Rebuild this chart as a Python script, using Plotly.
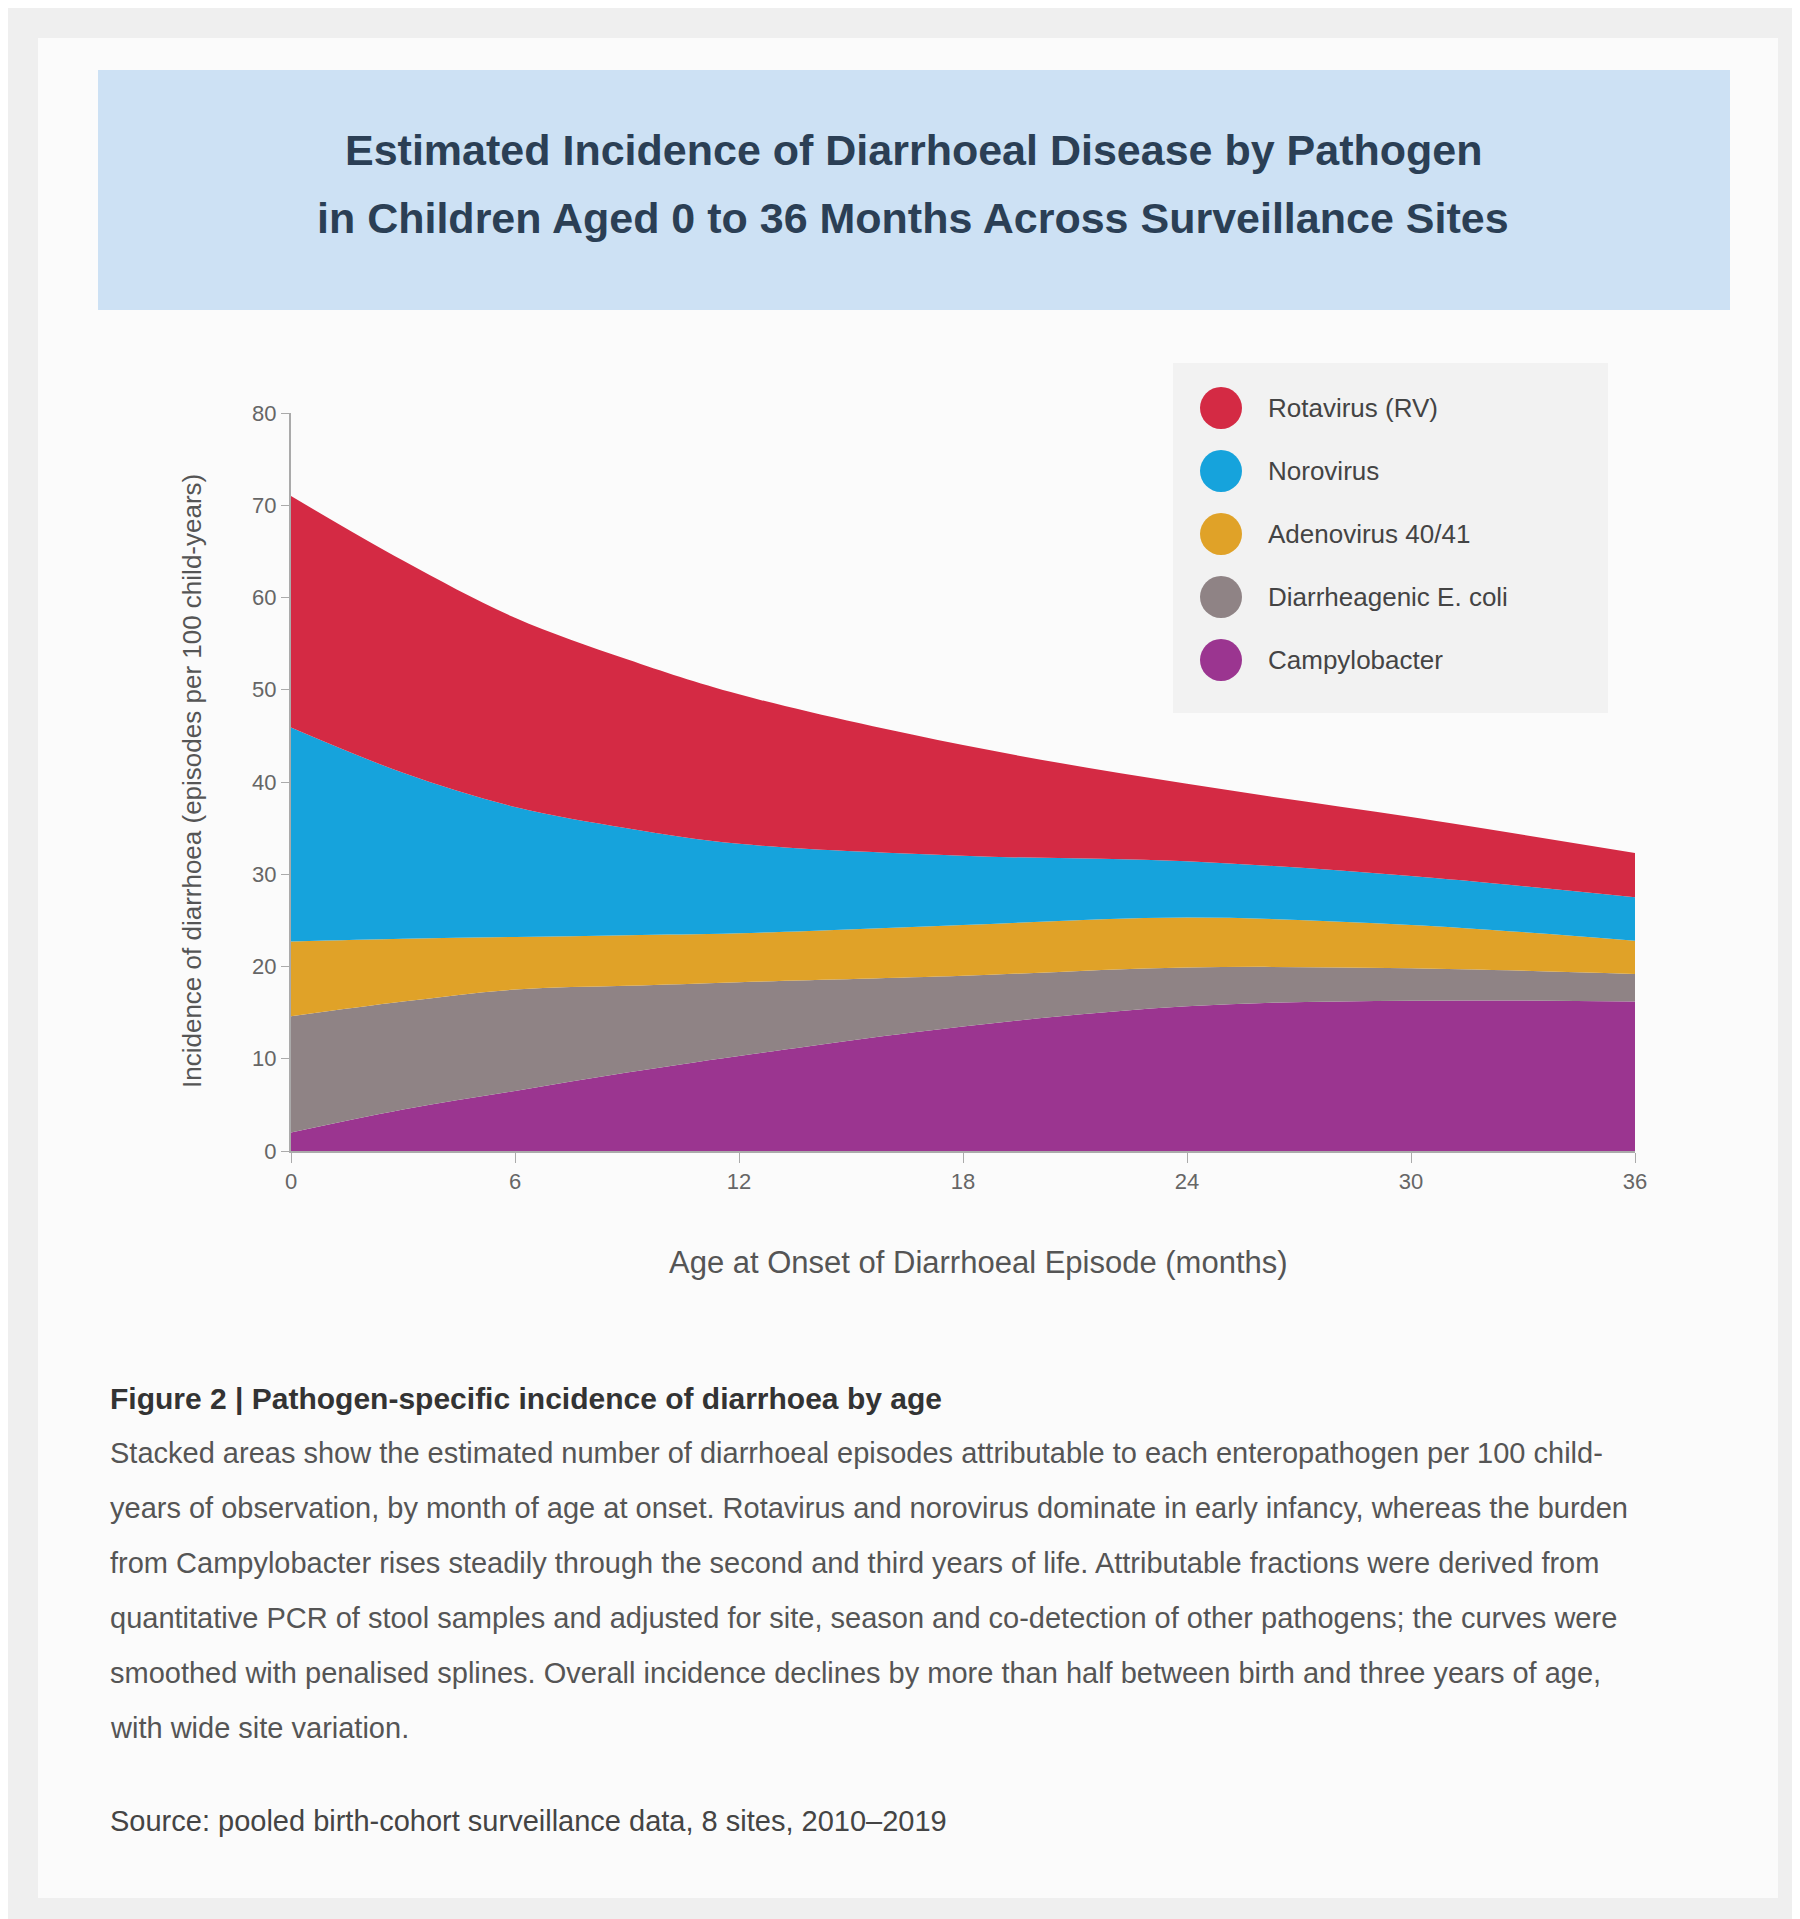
import plotly.graph_objects as go

# age at episode onset (months)
age_months = [0, 3, 6, 9, 12, 18, 24, 30, 36]

# episodes per 100 child-years
campylobacter = [2.0, 4.5, 6.5, 8.5, 10.3, 13.5, 15.7, 16.3, 16.2]
ecoli = [12.6, 11.7, 11.0, 9.4, 8.0, 5.5, 4.2, 3.5, 3.0]
adenovirus = [8.1, 6.8, 5.7, 5.5, 5.3, 5.5, 5.4, 4.7, 3.6]
norovirus = [23.2, 18.0, 14.1, 11.6, 9.7, 7.5, 6.1, 5.3, 4.7]
rotavirus = [25.1, 23.0, 20.5, 18.3, 16.2, 12.0, 8.4, 6.4, 4.8]

x_ticks = [0, 6, 12, 18, 24, 30, 36]
y_ticks = [0, 10, 20, 30, 40, 50, 60, 70, 80]

legend_names = ["Rotavirus (RV)", "Norovirus", "Adenovirus 40/41",
                "Diarrheagenic E. coli", "Campylobacter"]
legend_colors = ["#d42a44", "#16a3dc", "#e0a228", "#8f8385", "#9b3590"]

title_lines = ["Estimated Incidence of Diarrhoeal Disease by Pathogen",
               "in Children Aged 0 to 36 Months Across Surveillance Sites"]

caption_head = "Figure 2 | Pathogen-specific incidence of diarrhoea by age"
caption_lines = [
    "Stacked areas show the estimated number of diarrhoeal episodes attributable to each enteropathogen per 100 child-",
    "years of observation, by month of age at onset. Rotavirus and norovirus dominate in early infancy, whereas the burden",
    "from Campylobacter rises steadily through the second and third years of life. Attributable fractions were derived from",
    "quantitative PCR of stool samples and adjusted for site, season and co-detection of other pathogens; the curves were",
    "smoothed with penalised splines. Overall incidence declines by more than half between birth and three years of age,",
    "with wide site variation.",
]
caption_source = "Source: pooled birth-cohort surveillance data, 8 sites, 2010\u20132019"

W, H = 1800, 1919
L, R, T, B = 283, 173, 405, 776
PW = W - L - R
PH = H - T - B


def fx(px):
    return (px - L) / PW


def fy(py):
    return (H - B - py) / PH


fig = go.Figure()

series = [campylobacter, ecoli, adenovirus, norovirus, rotavirus]
order = [4, 3, 2, 1, 0]
for vals, i in zip(series, order):
    fig.add_trace(go.Scatter(
        x=age_months, y=vals, name=legend_names[i],
        stackgroup="one", mode="lines",
        line=dict(width=0, shape="spline", smoothing=1.0),
        fillcolor=legend_colors[i], showlegend=False,
    ))

shapes = [
    # white card
    dict(type="rect", xref="paper", yref="paper", layer="below",
         x0=fx(30), x1=fx(1770), y0=fy(1890), y1=fy(30),
         fillcolor="#fbfbfb", line=dict(width=0)),
    # title banner
    dict(type="rect", xref="paper", yref="paper", layer="below",
         x0=fx(90), x1=fx(1722), y0=fy(302), y1=fy(62),
         fillcolor="#cde1f4", line=dict(width=0)),
    # legend panel
    dict(type="rect", xref="paper", yref="paper", layer="below",
         x0=fx(1165), x1=fx(1600), y0=fy(705), y1=fy(355),
         fillcolor="#f2f2f2", line=dict(width=0)),
]

annotations = []
for k, line in enumerate(title_lines):
    annotations.append(dict(
        xref="paper", yref="paper", x=fx(905), y=fy(142 + k * 68),
        text="<b>" + line + "</b>", showarrow=False,
        xanchor="center", yanchor="middle",
        font=dict(size=43, color="#2b3f55")))

# legend drawn by hand so the markers can be large circles
for k, (name, col) in enumerate(zip(legend_names, legend_colors)):
    cy = 400 + k * 63
    shapes.append(dict(type="circle", xref="paper", yref="paper",
                       x0=fx(1192), x1=fx(1234), y0=fy(cy + 21), y1=fy(cy - 21),
                       fillcolor=col, line=dict(width=0)))
    annotations.append(dict(xref="paper", yref="paper", x=fx(1258), y=fy(cy),
                            text=name, showarrow=False, xanchor="left",
                            yanchor="middle", font=dict(size=26, color="#444")))

annotations.append(dict(xref="paper", yref="paper", x=fx(184), y=fy(773),
                        text="Incidence of diarrhoea (episodes per 100 child-years)",
                        textangle=-90, showarrow=False,
                        xanchor="center", yanchor="middle",
                        font=dict(size=26, color="#555")))
annotations.append(dict(xref="paper", yref="paper", x=fx(970), y=fy(1254),
                        text="Age at Onset of Diarrhoeal Episode (months)",
                        showarrow=False, xanchor="center", yanchor="middle",
                        font=dict(size=31, color="#555")))

annotations.append(dict(xref="paper", yref="paper", x=fx(100), y=fy(1390),
                        text="<b>" + caption_head + "</b>", showarrow=False,
                        xanchor="left", yanchor="middle",
                        font=dict(size=30, color="#333")))
for k, line in enumerate(caption_lines):
    annotations.append(dict(xref="paper", yref="paper", x=fx(100),
                            y=fy(1445 + k * 55), text=line, showarrow=False,
                            xanchor="left", yanchor="middle",
                            font=dict(size=29, color="#555")))
annotations.append(dict(xref="paper", yref="paper", x=fx(100), y=fy(1813),
                        text=caption_source, showarrow=False, xanchor="left",
                        yanchor="middle", font=dict(size=29, color="#444")))

fig.update_layout(
    width=W, height=H,
    margin=dict(l=L, r=R, t=T, b=B, autoexpand=False),
    paper_bgcolor="#efefef", plot_bgcolor="rgba(0,0,0,0)",
    font=dict(family="Liberation Sans, Arial, sans-serif"),
    shapes=shapes, annotations=annotations, showlegend=False,
)
fig.update_xaxes(range=[0, 36], tickvals=x_ticks, showgrid=False,
                 zeroline=False, showline=True, linecolor="#aaa", linewidth=2,
                 ticks="outside", ticklen=10, tickcolor="#aaa",
                 tickfont=dict(size=22, color="#666"))
fig.update_yaxes(range=[0, 80], tickvals=y_ticks, showgrid=False,
                 zeroline=False, showline=True, linecolor="#aaa", linewidth=2,
                 ticks="outside", ticklen=8, tickcolor="#aaa",
                 tickfont=dict(size=22, color="#666"))

fig.write_html("out.html")
